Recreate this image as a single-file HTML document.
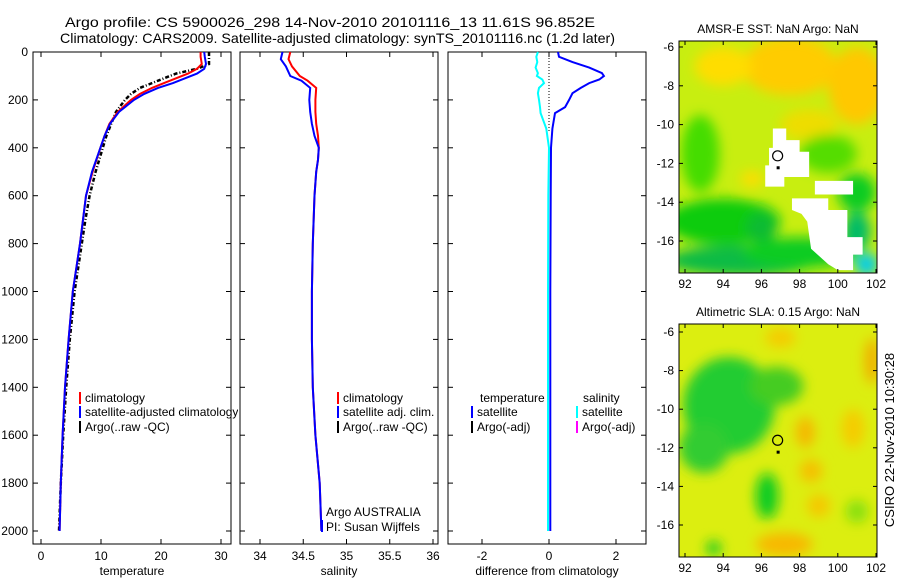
<!DOCTYPE html>
<html><head><meta charset="utf-8"><style>
body{margin:0;background:#fff;}
svg{display:block;font-family:"Liberation Sans",sans-serif;}
</style></head><body>
<svg id="c" width="900" height="580" viewBox="0 0 900 580">
<defs>
<clipPath id="cp1"><rect x="33" y="52" width="205" height="492"/></clipPath>
<clipPath id="cm1"><rect x="679" y="41" width="198" height="232"/></clipPath>
<clipPath id="cm2"><rect x="679" y="324" width="198" height="233"/></clipPath>
<filter id="bl" x="-50%" y="-50%" width="200%" height="200%"><feGaussianBlur stdDeviation="6"/></filter>
</defs>
<text x="65" y="27" font-size="14" textLength="530" lengthAdjust="spacingAndGlyphs">Argo profile: CS 5900026_298 14-Nov-2010 20101116_13 11.61S 96.852E</text>
<text x="60" y="43" font-size="14" textLength="555" lengthAdjust="spacingAndGlyphs">Climatology: CARS2009. Satellite-adjusted climatology: synTS_20101116.nc (1.2d later)</text>
<g id="plots"></g>
<g id="maps"></g>
<text transform="translate(894,440) rotate(-90)" font-size="13" text-anchor="middle">CSIRO 22-Nov-2010 10:30:28</text>
</svg>
<script>
// ---- data ----
const tDepths=[0,20,50,70,90,110,130,150,175,200,250,300,350,400,500,600,700,800,1000,1200,1400,1600,1800,2000];
const tClim=[26.6,26.6,26.8,26,24.5,22.5,20.5,18.5,16.5,15,12.8,11.4,10.6,9.9,8.6,7.5,7.0,6.5,5.3,4.6,4.0,3.6,3.3,3.1];
const tSat=[27.2,27.3,27.5,27.2,26,24,22,19.5,17.2,15.5,13,11.5,10.6,9.9,8.5,7.5,7.0,6.5,5.3,4.6,4.0,3.6,3.3,3.1];
const tArgo=[28,28,28,26,22.5,20.5,18.5,16.5,15,14,12.5,11.7,10.9,10.3,9.1,8.1,7.4,6.8,5.6,4.8,4.2,3.7,3.3,3.0];
const sDepths=[0,30,60,100,120,150,200,250,300,350,400,450,500,600,800,1000,1200,1400,1600,1800,2000];
const sClim=[34.35,34.33,34.37,34.46,34.55,34.65,34.64,34.64,34.65,34.67,34.68,34.67,34.65,34.63,34.61,34.60,34.60,34.61,34.64,34.69,34.71];
const sSat=[34.26,34.24,34.30,34.35,34.48,34.58,34.57,34.58,34.60,34.63,34.68,34.67,34.65,34.63,34.61,34.60,34.60,34.61,34.64,34.69,34.71];
const dDepths=[0,20,42,65,88,100,115,130,150,172,200,230,255,320,400,600,1000,1500,2000];
const dTemp=[0.27,0.3,0.7,1.2,1.58,1.64,1.5,1.2,0.95,0.7,0.6,0.48,0.18,0.1,0.06,0.05,0.04,0.04,0.04];
const dSal=[-0.33,-0.38,-0.35,-0.4,-0.33,-0.36,-0.2,-0.15,-0.3,-0.33,-0.3,-0.27,-0.25,-0.08,0,-0.02,-0.03,-0.03,-0.03];
const depthTicks=[0,200,400,600,800,1000,1200,1400,1600,1800,2000];
const tTicks=[0,10,20,30];
const sTicks=[34,34.5,35,35.5,36];
const dTicks=[-2,0,2];
const lonTicks=[92,94,96,98,100,102];
const latTicks=[-6,-8,-10,-12,-14,-16];

const NS='http://www.w3.org/2000/svg';
function mk(tag,attrs,parent,txt){const e=document.createElementNS(NS,tag);for(const k in attrs)e.setAttribute(k,attrs[k]);if(txt!==undefined)e.textContent=txt;parent.appendChild(e);return e;}
const yD=d=>52+d*0.2395;
const P=document.getElementById('plots');

function panel(name,x0,x1,xs,ticks,label,fmt){
  const g=mk('g',{},P);
  
  
  const r=mk('rect',{x:x0,y:52,width:x1-x0,height:492,fill:'none',stroke:'#000','stroke-width':1},g);
  
  
  ticks.forEach(t=>{const x=xs(t);
    mk('line',{x1:x,x2:x,y1:544,y2:539,stroke:'#000'},g);mk('line',{x1:x,x2:x,y1:52,y2:57,stroke:'#000'},g);
    const tl=mk('text',{x:x,y:560,'font-size':12,'text-anchor':'middle'},g,fmt(t));
    
    });
  depthTicks.forEach(d=>{const y=yD(d);
    mk('line',{x1:x0,x2:x0+5,y1:y,y2:y,stroke:'#000'},g);mk('line',{x1:x1,x2:x1-5,y1:y,y2:y,stroke:'#000'},g);});
  const al=mk('text',{x:(x0+x1)/2,y:575,'font-size':12,'text-anchor':'middle'},g,label);
  
  
  return g;
}
function line(g,name,depths,vals,xs,color,w,dash){
  const pts=depths.map((d,i)=>xs(vals[i]).toFixed(1)+','+yD(d).toFixed(1)).join(' ');
  const l=mk('polyline',{points:pts,fill:'none',stroke:color,'stroke-width':w},g);
  if(dash)l.setAttribute('stroke-dasharray',dash);
  
  
}
function legend(g,x,y,color,label,name){
  mk('rect',{x:x,y:y-10,width:2,height:12,fill:color},g);
  const t=mk('text',{x:x+6,y:y,'font-size':12},g,label);
  
  
}
depthTicks.forEach(d=>{const t=mk('text',{x:28,y:yD(d)+4,'font-size':12,'text-anchor':'end'},P,String(d));
  
  });

// panel 1
const xT=t=>41+6*t;
const g1=panel('temperature-panel',33,231,xT,tTicks,'temperature',String);
line(g1,'argo-temperature-line',tDepths,tArgo,xT,'#000',2.5,'4 2 1 2');
line(g1,'climatology-temperature-line',tDepths,tClim,xT,'#f00',2);
line(g1,'satellite-temperature-line',tDepths,tSat,xT,'#00f',2);
const lg1=mk('g',{'clip-path':'url(#cp1)'},g1);
legend(lg1,79,402,'#f00','climatology','legend-climatology');
legend(lg1,79,416,'#00f','satellite-adjusted climatology','legend-satellite-adjusted');
legend(lg1,79,431,'#000','Argo(..raw -QC)','legend-argo');

// panel 2
const xS=s=>260+86.5*(s-34);
const g2=panel('salinity-panel',240,438,xS,sTicks,'salinity',String);
line(g2,'climatology-salinity-line',sDepths,sClim,xS,'#f00',2);
line(g2,'satellite-salinity-line',sDepths,sSat,xS,'#00f',2);
legend(g2,337,402,'#f00','climatology','legend-climatology-2');
legend(g2,337,416,'#00f','satellite adj. clim.','legend-satellite-2');
legend(g2,337,431,'#000','Argo(..raw -QC)','legend-argo-2');
const a1=mk('text',{x:326,y:516,'font-size':12},g2,'Argo AUSTRALIA');


mk('rect',{x:321,y:520,width:2,height:12,fill:'#00f'},g2);
const a2=mk('text',{x:326,y:531,'font-size':12},g2,'PI: Susan Wijffels');



// panel 3
const xDf=d=>549+33.5*d;
const g3=panel('difference-panel',448,646,xDf,dTicks,'difference from climatology',String);
mk('line',{x1:xDf(0),x2:xDf(0),y1:52,y2:yD(330),stroke:'#000','stroke-dasharray':'1 2'},g3);
line(g3,'salinity-difference-line',dDepths,dSal,xDf,'#0ff',2);
line(g3,'temperature-difference-line',dDepths,dTemp,xDf,'#00f',2);
const tt=mk('text',{x:480,y:402,'font-size':12},g3,'temperature');


legend(g3,471,416,'#00f','satellite','legend-temp-satellite');
legend(g3,471,431,'#000','Argo(-adj)','legend-temp-argo');
const st=mk('text',{x:583,y:402,'font-size':12},g3,'salinity');


legend(g3,576,416,'#0ff','satellite','legend-sal-satellite');
legend(g3,576,431,'#f0f','Argo(-adj)','legend-sal-argo');

// ---- maps ----
const M=document.getElementById('maps');
const lx=l=>685+19.1*(l-92);
function mapPanel(name,y0,h,latY,title,base,blobs,whites,clip){
  const g=mk('g',{},M);
  
  
  const t=mk('text',{x:778,y:y0-8,'font-size':12,'text-anchor':'middle'},g,title);
  
  
  const f=mk('g',{'clip-path':'url(#'+clip+')'},g);
  mk('rect',{x:679,y:y0,width:198,height:h,fill:base},f);
  const fb=mk('g',{filter:'url(#bl)'},f);
  blobs.forEach(b=>mk('ellipse',{cx:lx(b[0]),cy:latY(b[1]),rx:b[2]*19.1,ry:b[3]*19.3,fill:b[4]},fb));
  whites.forEach(w=>mk('polygon',{points:w.map(p=>lx(p[0])+','+latY(p[1])).join(' '),fill:'#fff'},f));
  mk('circle',{cx:lx(96.85),cy:latY(-11.61),r:5,fill:'none',stroke:'#000','stroke-width':1.2},f);
  mk('rect',{x:lx(96.85)-1,y:latY(-12.2)-1,width:3,height:3,fill:'#000'},f);
  mk('rect',{x:679,y:y0,width:198,height:h,fill:'none',stroke:'#000'},g);
  lonTicks.forEach(l=>{const x=lx(l);mk('line',{x1:x,x2:x,y1:y0+h,y2:y0+h-4,stroke:'#000'},g);mk('line',{x1:x,x2:x,y1:y0,y2:y0+4,stroke:'#000'},g);
    const tl=mk('text',{x:x,y:y0+h+15,'font-size':12,'text-anchor':'middle'},g,String(l));
    
    });
  latTicks.forEach(l=>{const y=latY(l);mk('line',{x1:679,x2:683,y1:y,y2:y,stroke:'#000'},g);mk('line',{x1:877,x2:873,y1:y,y2:y,stroke:'#000'},g);
    const tl=mk('text',{x:674,y:y+4,'font-size':12,'text-anchor':'end'},g,String(l));
    
    });
}
const latY1=l=>47+19.4*(-6-l);
mapPanel('sst-map',41,232,latY1,'AMSR-E SST: NaN Argo: NaN','#c8ee10',[
 [97.5,-7,2.5,1.5,'#ffcc00'],[101,-8,1.5,2,'#ffc800'],[94,-7,1.5,1,'#ffdd00'],[98.5,-10,1.5,0.8,'#eedd00'],
 [92.8,-11.5,1,2,'#44dd00'],[99.5,-11.5,1.5,1,'#55dd00'],[101,-13.5,1,1,'#11cc22'],
 [94,-15,3,1.2,'#11cc11'],[96,-15.3,0.8,0.8,'#11bb33'],[95,-17,4,0.8,'#11bb44'],[101,-15.5,0.7,1,'#00bb66'],[101.5,-17.2,0.6,0.6,'#00ccee'],
 [98,-16.6,3,0.8,'#11cc22'],[95.5,-12.8,0.6,0.4,'#ffdd00']
],[
 [[96.6,-10.2],[97.3,-10.2],[97.3,-10.8],[98,-10.8],[98,-11.4],[98.5,-11.4],[98.5,-12.7],[97.2,-12.7],[97.2,-13.2],[96.2,-13.2],[96.2,-12.1],[96.4,-12.1],[96.4,-11.2],[96.6,-11.2]],
 [[97.6,-13.8],[99.5,-13.8],[99.5,-14.4],[100.5,-14.4],[100.5,-15.8],[101.3,-15.8],[101.3,-16.7],[100.8,-16.7],[100.8,-17.5],[100,-17.5],[99.5,-17.2],[98.6,-16.4],[98.4,-15],[98.1,-14.6],[97.6,-14.4]],
 [[98.8,-12.9],[100.8,-12.9],[100.8,-13.6],[98.8,-13.6]]
],'cm1');
const latY2=l=>332+19.3*(-6-l);
mapPanel('sla-map',324,233,latY2,'Altimetric SLA: 0.15 Argo: NaN','#dcee10',[
 [94.3,-9.8,2.4,2.5,'#22cc33'],[93,-12,1.3,1.3,'#33cc33'],[96.8,-8.8,1.4,1,'#44cc22'],[96.3,-14.5,0.6,1.2,'#11cc22'],
 [98.3,-11.2,0.5,0.8,'#f5b800'],[98.6,-13.2,0.6,0.6,'#f5c000'],[99,-15,0.6,0.6,'#f5c800'],[97.2,-17,1.5,0.6,'#f8b800'],
 [101.8,-7.5,0.4,1.2,'#f0b000'],[100.8,-11,0.6,1,'#f5cc00'],[97,-6.3,0.8,0.5,'#f5cc00'],[101,-15.3,0.6,0.6,'#88e010'],[93.5,-17.2,0.4,0.4,'#22cc22']
],[],'cm2');
</script>
</body></html>
